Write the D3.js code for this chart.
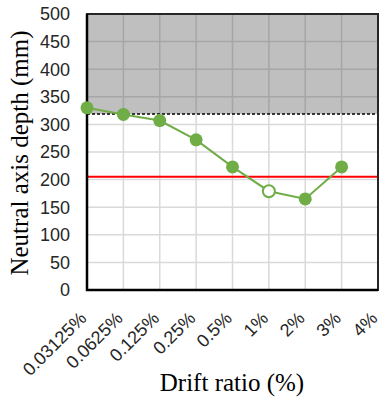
<!DOCTYPE html>
<html><head><meta charset="utf-8">
<script src="https://cdn.jsdelivr.net/npm/d3@7"></script>
<style>body{margin:0;background:#fff}svg{display:block}</style>
</head><body>
<script>
const categories = ["0.03125%","0.0625%","0.125%","0.25%","0.5%","1%","2%","3%","4%"];
const depthValues = [330, 318, 307, 272, 223, 179, 165, 223, null];
const openPoint = [false,false,false,false,false,true,false,false,false];
const yTicks = [0,50,100,150,200,250,300,350,400,450,500];
const redLineValue = 205;
const dashedLineValue = 319;

const W = 382, H = 398;
const m = {left:87, right:4, top:14, bottom:108};
const svg = d3.select("body").append("svg").attr("width",W).attr("height",H);
const x = d3.scalePoint().domain(categories).range([m.left, W-m.right]);
const y = d3.scaleLinear().domain([0,500]).range([H-m.bottom, m.top]);
const x0 = m.left, x1 = W-m.right;

// shaded region
svg.append("rect").attr("x",x0).attr("y",y(500)).attr("width",x1-x0).attr("height",y(dashedLineValue)-y(500)).attr("fill","#bfbfbf");

// horizontal gridlines
svg.append("g").selectAll("line").data(yTicks).join("line")
  .attr("x1",x0).attr("x2",x1).attr("y1",d=>y(d)).attr("y2",d=>y(d))
  .attr("stroke",d=>d>dashedLineValue?"#a6a6a6":"#d9d9d9").attr("stroke-width",1.5);
// vertical gridlines
const vg = svg.append("g");
categories.forEach(c=>{
  vg.append("line").attr("x1",x(c)).attr("x2",x(c)).attr("y1",y(dashedLineValue)).attr("y2",y(0)).attr("stroke","#d9d9d9").attr("stroke-width",1.5);
  vg.append("line").attr("x1",x(c)).attr("x2",x(c)).attr("y1",y(500)).attr("y2",y(dashedLineValue)).attr("stroke","#a6a6a6").attr("stroke-width",1.5);
});

// red line
svg.append("line").attr("x1",x0).attr("x2",x1).attr("y1",y(redLineValue)).attr("y2",y(redLineValue)).attr("stroke","#ff0000").attr("stroke-width",2);
// dashed line
svg.append("line").attr("x1",x0).attr("x2",x1).attr("y1",y(dashedLineValue)).attr("y2",y(dashedLineValue)).attr("stroke","#000").attr("stroke-width",1.5).attr("stroke-dasharray","3,2");

// frame
svg.append("rect").attr("x",x0).attr("y",y(500)).attr("width",x1-x0).attr("height",y(0)-y(500)).attr("fill","none").attr("stroke","#262626").attr("stroke-width",2);
svg.append("path").attr("d",`M${x0},${y(500)}V${y(0)}H${x1}`).attr("fill","none").attr("stroke","#000").attr("stroke-width",2.5);

// series
const pts = categories.map((c,i)=>({c,v:depthValues[i],open:openPoint[i]})).filter(d=>d.v!=null);
svg.append("path").datum(pts)
  .attr("d",d3.line().x(d=>x(d.c)).y(d=>y(d.v)))
  .attr("fill","none").attr("stroke","#70ad47").attr("stroke-width",2);
svg.append("g").selectAll("circle").data(pts).join("circle")
  .attr("cx",d=>x(d.c)).attr("cy",d=>y(d.v)).attr("r",d=>d.open?6:6.5)
  .attr("fill",d=>d.open?"#fff":"#70ad47").attr("stroke","#70ad47").attr("stroke-width",d=>d.open?2:0);

// y tick labels
svg.append("g").selectAll("text").data(yTicks).join("text")
  .attr("x",x0-17).attr("y",d=>y(d)).attr("dy","0.35em").attr("text-anchor","end")
  .attr("font-family","Liberation Sans, Arial, sans-serif").attr("font-size",18).attr("fill","#262626")
  .text(d=>d);

// x tick labels
svg.append("g").selectAll("text").data(categories).join("text")
  .attr("transform",d=>`translate(${x(d)-4},${y(0)+25}) rotate(-45)`)
  .attr("dy","0.35em").attr("text-anchor","end")
  .attr("font-family","Liberation Sans, Arial, sans-serif").attr("font-size",18).attr("fill","#262626")
  .text(d=>d);

// axis titles
svg.append("text").attr("x",232).attr("y",391).attr("text-anchor","middle")
  .attr("font-family","Liberation Serif, Times New Roman, serif").attr("font-size",25).attr("fill","#000")
  .text("Drift ratio (%)");
svg.append("text").attr("transform","translate(28,153) rotate(-90)").attr("text-anchor","middle")
  .attr("font-family","Liberation Serif, Times New Roman, serif").attr("font-size",25).attr("fill","#000")
  .text("Neutral axis depth (mm)");
</script>
</body></html>
